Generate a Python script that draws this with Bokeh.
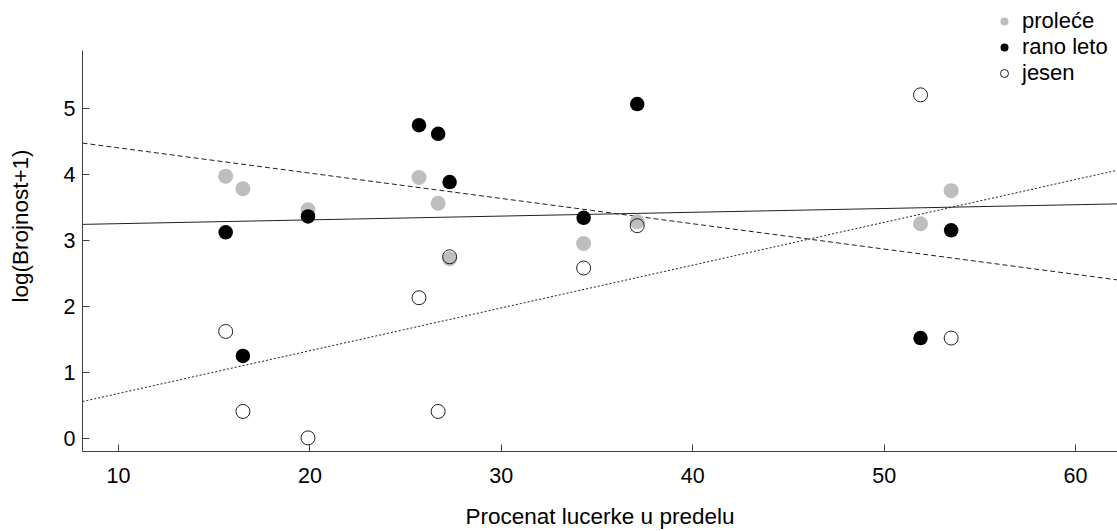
from bokeh.plotting import figure
from bokeh.models import Range1d, Legend, LegendItem, FixedTicker
from bokeh.embed import file_html
from bokeh.resources import INLINE

# ---- data ----
x_sites = [15.6, 16.5, 19.9, 25.7, 26.7, 27.3, 34.3, 37.1, 51.9, 53.5]
y_prolece = [3.97, 3.78, 3.46, 3.95, 3.56, 2.72, 2.95, 3.28, 3.25, 3.75]
y_rano_leto = [3.12, 1.25, 3.36, 4.74, 4.61, 3.88, 3.34, 5.06, 1.52, 3.15]
y_jesen = [1.62, 0.41, 0.01, 2.13, 0.41, 2.75, 2.58, 3.22, 5.20, 1.52]

fit_x = [8.12, 62.19]
fit_solid_y = [3.24, 3.55]
fit_dashed_y = [4.47, 2.40]
fit_dotted_y = [0.56, 4.06]

x_ticks = [10, 20, 30, 40, 50, 60]
y_ticks = [0, 1, 2, 3, 4, 5]
y_axis_bounds = (-0.196, 5.873)

labels = ["proleće", "rano leto", "jesen"]

FONT = "Liberation Sans"

p = figure(width=1117, height=531, output_backend="svg", toolbar_location=None,
           x_range=Range1d(8.12, 62.19), y_range=Range1d(-0.196, 6.627),
           min_border_left=82, min_border_right=0, min_border_top=0, min_border_bottom=78)
p.outline_line_color = None
p.xgrid.visible = False
p.ygrid.visible = False
p.background_fill_color = "white"

for ax, ticks in ((p.xaxis[0], x_ticks), (p.yaxis[0], y_ticks)):
    ax.ticker = FixedTicker(ticks=ticks)
    ax.major_tick_in = 7
    ax.major_tick_out = 0
    ax.minor_tick_line_color = None
    ax.axis_line_color = "#404040"
    ax.major_tick_line_color = "#404040"
    ax.major_label_text_font = FONT
    ax.major_label_text_font_size = "21.5px"
    ax.major_label_text_color = "black"
    ax.axis_label_text_font = FONT
    ax.axis_label_text_font_size = "22.5px"
    ax.axis_label_text_font_style = "normal"
    ax.axis_label_text_color = "black"

p.yaxis[0].bounds = y_axis_bounds
p.xaxis.axis_label = "Procenat lucerke u predelu"
p.yaxis.axis_label = "log(Brojnost+1)"
p.xaxis.major_label_standoff = 16
p.xaxis.axis_label_standoff = 18
p.yaxis.major_label_standoff = 7
p.yaxis.axis_label_standoff = 28

# fit lines
p.line(fit_x, fit_solid_y, line_color="#202020", line_width=1)
p.line(fit_x, fit_dashed_y, line_color="#202020", line_width=1, line_dash="5 3")
p.line(fit_x, fit_dotted_y, line_color="#202020", line_width=1, line_dash="2 2")

# points
r1 = p.scatter(x_sites, y_prolece, size=15, fill_color="#bebebe", line_color=None)
r2 = p.scatter(x_sites, y_rano_leto, size=14.5, fill_color="black", line_color=None)
r3 = p.scatter(x_sites, y_jesen, size=14, fill_color=None, line_color="#202020", line_width=1)

legend = Legend(items=[LegendItem(label=labels[0], renderers=[r1]),
                       LegendItem(label=labels[1], renderers=[r2]),
                       LegendItem(label=labels[2], renderers=[r3])],
                location=(912, 365), orientation="vertical",
                background_fill_alpha=0, border_line_color=None,
                padding=0, margin=0, spacing=0,
                glyph_width=20, glyph_height=26, label_height=26, label_standoff=8,
                label_text_font=FONT, label_text_font_size="22px", label_text_color="black")
p.add_layout(legend, "center")

open("out.html", "w").write(file_html(p, INLINE))
